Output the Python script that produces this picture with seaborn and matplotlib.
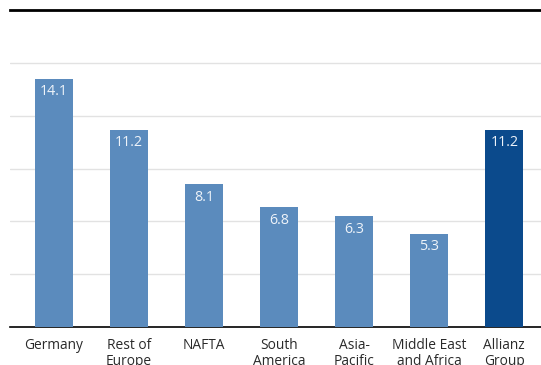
import matplotlib
matplotlib.use("Agg")
import matplotlib.pyplot as plt
import seaborn as sns
import pandas as pd

# Daten
regions = ["Germany", "Rest of\nEurope", "NAFTA", "South\nAmerica", "Asia-\nPacific",
           "Middle East\nand Africa", "Allianz\nGroup"]
values = [14.1, 11.2, 8.1, 6.8, 6.3, 5.3, 11.2]
colors = ["#5b8bbd"] * 6 + ["#0b4a8c"]

df = pd.DataFrame({"region": regions, "value": values})

sns.set_theme(style="white")
plt.rcParams["font.family"] = ["Open Sans", "DejaVu Sans"]

fig = plt.figure(figsize=(5.41, 3.65), dpi=100)
ax = fig.add_axes([10 / 541, 38 / 365, 531 / 541, 317 / 365])

sns.barplot(data=df, x="region", y="value", hue="region", palette=colors,
            legend=False, width=0.507, saturation=1, linewidth=0, ax=ax, zorder=3)

# Werte in den Balken
for i, v in enumerate(values):
    ax.text(i, v - 0.75, f"{v:.1f}", ha="center", va="center",
            color="#eef3f9", fontsize=10.3, zorder=4)

ax.set_xlim(-0.587, 6.49)
ax.set_ylim(0, 18)
ax.set_yticks([3, 6, 9, 12, 15])
ax.yaxis.grid(True, color="#e2e2e2", linewidth=1, zorder=0)
ax.tick_params(axis="y", left=False, labelleft=False)
ax.tick_params(axis="x", bottom=False, pad=2, labelsize=9.9, labelcolor="#2a2a2a")
for lbl in ax.get_xticklabels():
    lbl.set_linespacing(1.05)
ax.set_xlabel("")
ax.set_ylabel("")

for side in ["left", "right"]:
    ax.spines[side].set_visible(False)
ax.spines["top"].set_color("black")
ax.spines["top"].set_linewidth(2)
ax.spines["bottom"].set_color("black")
ax.spines["bottom"].set_linewidth(1.2)

fig.savefig("out.png", dpi=100)
